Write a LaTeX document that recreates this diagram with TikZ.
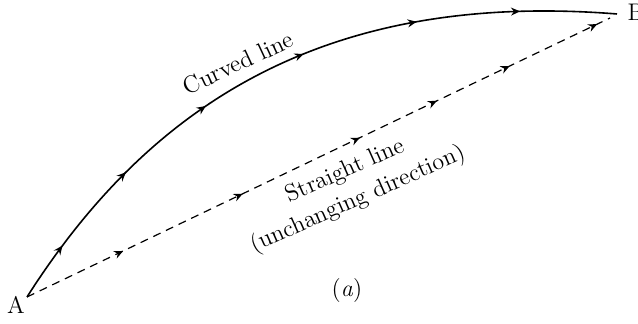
\documentclass[tikz,border=0pt]{standalone}
\usetikzlibrary{arrows.meta, decorations.markings}

\tikzset{
    midarrow/.style={postaction={decorate, decoration={markings,
        mark=at position #1 with {\arrow{Stealth[length=4.5pt, width=4pt, inset=1.5pt]}}}}},
    lbl/.style={font=\fontsize{12}{15.5}\selectfont}
}

\begin{document}
\begin{tikzpicture}[x=0.5pt, y=0.5pt, line width=0.8pt]
        \useasboundingbox (0,0) rectangle (638,324);
        \coordinate (a) at (27,27);
        \coordinate (b) at (617,310);
        \coordinate (b2) at (610,306);
        \node[lbl] (labA) at (16,19.5) {A};
        \node[lbl] (labB) at (636,312) {B};

        \draw[midarrow=0.09, midarrow=0.23, midarrow=0.38, midarrow=0.54, midarrow=0.71, midarrow=0.86]
            (a) .. controls (145,212) and (317,334) .. (b);
        \draw[dash pattern=on 4pt off 3pt, line width=0.6pt, midarrow=0.165, midarrow=0.37, midarrow=0.571, midarrow=0.703, midarrow=0.828, midarrow=0.978]
            (a) -- (b2);

        \node[lbl, rotate=25] (curved) at (238,261) {Curved line};
        \node[lbl, rotate=24, align=center] (straight) at (352,138) {Straight line\\(unchanging direction)};
        \node[lbl] (caption) at (347,33) {(\textit{a})};
    \end{tikzpicture}
\end{document}
